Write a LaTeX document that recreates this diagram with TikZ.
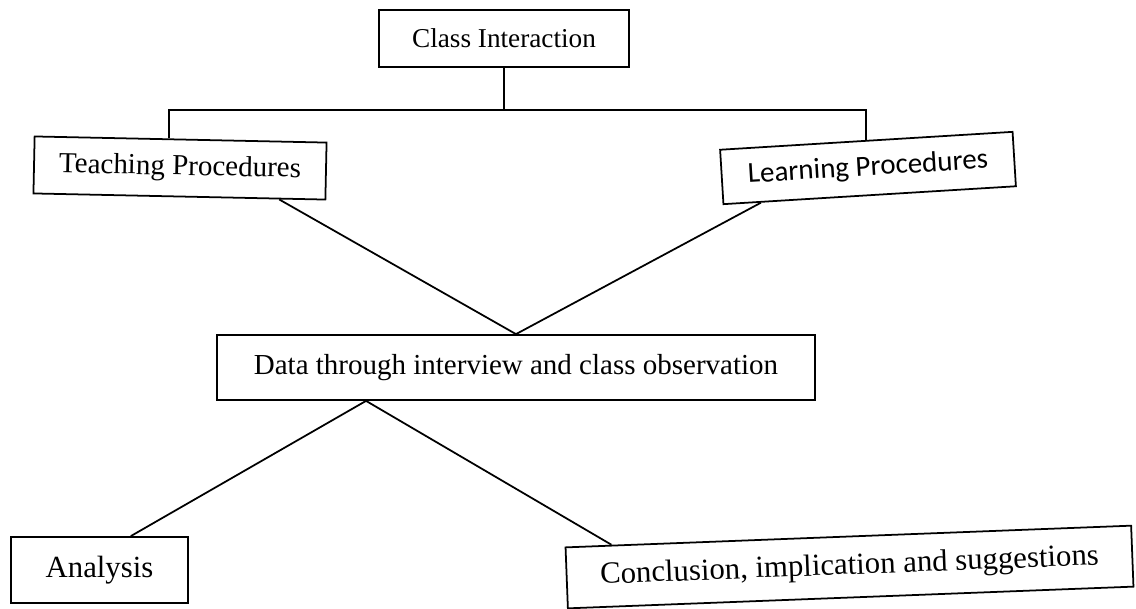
\documentclass[tikz,border=0pt]{standalone}
\usepackage{fontspec}
\setmainfont{Liberation Serif}
\newfontfamily\learnfont{Carlito}
\usepackage{tikz}
\usetikzlibrary{calc}
\tikzset{
  font={\fontsize{16.5pt}{20}\selectfont}}

\begin{document}
\begin{tikzpicture}[scale=0.2]
\tikzstyle{every node}+=[inner sep=0pt]
\tikzstyle{box}=[draw=black, rectangle, line width=1pt, align=center]
\useasboundingbox (0,0) rectangle (113.6,-60.8);
% boxes
\node [box, minimum width=5cm, minimum height=1.14cm, font={\fontsize{15.5pt}{18}\selectfont}] (cls) at (50.4,-3.85) {Class Interaction};
\node [box, minimum width=5.84cm, minimum height=1.14cm, rotate=-1.2] (teach) at (18,-16.8) {Teaching Procedures};
\node [box, minimum width=5.86cm, minimum height=1.09cm, rotate=3.5, font={\learnfont\fontsize{16.5pt}{20}\selectfont}] (learn) at (86.8,-16.8) {Learning Procedures};
\node [box, minimum width=11.96cm, minimum height=1.3cm] (data) at (51.6,-36.75) {Data through interview and class observation};
\node [box, minimum width=3.54cm, minimum height=1.32cm, font={\fontsize{17.5pt}{21}\selectfont}] (ana) at (9.95,-57) {Analysis};
\node [box, minimum width=11.32cm, minimum height=1.22cm, rotate=2.2, font={\fontsize{17.5pt}{21}\selectfont}] (concl) at (84.95,-56.7) {Conclusion, implication and suggestions};
% connectors
\coordinate (bar) at (50.4,-11);
\draw [black, line width=1pt] (cls.south) -- (bar);
\draw [black, line width=1pt] ($(teach.north)!0.08!(teach.north west)$) |- (bar) -| (learn.north);
\draw [black, line width=1pt] ($(teach.south)!0.68!(teach.south east)$) -- (data.north);
\draw [black, line width=1pt] ($(learn.south)!0.74!(learn.south west)$) -- (data.north);
\draw [black, line width=1pt] ($(data.south)!0.5!(data.south west)$) -- ($(ana.north)!0.35!(ana.north east)$);
\draw [black, line width=1pt] ($(data.south)!0.5!(data.south west)$) -- ($(concl.north west)!0.165!(concl.north)$);
\end{tikzpicture}
\end{document}
